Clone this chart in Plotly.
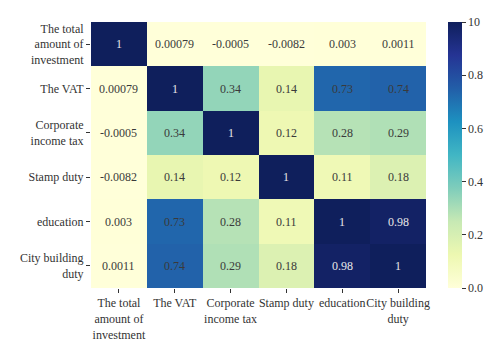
import plotly.graph_objects as go

labels = ["The total<br>amount of<br>investment", "The VAT", "Corporate<br>income tax",
          "Stamp duty", "education", "City building<br>duty"]
keys = ["total", "vat", "cit", "stamp", "edu", "city"]

row_total = [1, 0.00079, -0.0005, -0.0082, 0.003, 0.0011]
row_vat = [0.00079, 1, 0.34, 0.14, 0.73, 0.74]
row_cit = [-0.0005, 0.34, 1, 0.12, 0.28, 0.29]
row_stamp = [-0.0082, 0.14, 0.12, 1, 0.11, 0.18]
row_edu = [0.003, 0.73, 0.28, 0.11, 1, 0.98]
row_city = [0.0011, 0.74, 0.29, 0.18, 0.98, 1]
matrix = [row_total, row_vat, row_cit, row_stamp, row_edu, row_city]

cbar_tickvals = [0.0, 0.2, 0.4, 0.6, 0.8, 1.0]
cbar_ticktext = ["0.0", "0.2", "0.4", "0.6", "0.8", "10"]

ylgnbu = [
    [0.0, "#ffffd9"], [0.125, "#edf8b1"], [0.25, "#c7e9b4"], [0.375, "#7fcdbb"],
    [0.5, "#41b6c4"], [0.625, "#1d91c0"], [0.75, "#225ea8"], [0.875, "#253494"],
    [1.0, "#0f1f5c"],
]

FONT = "'Liberation Serif', 'DejaVu Serif', serif"
FS = 12

fig = go.Figure(go.Heatmap(
    z=matrix, x=keys, y=keys, zmin=0, zmax=1, colorscale=ylgnbu,
    xgap=0, ygap=0, hoverinfo="skip",
    colorbar=dict(
        x=1.066, xanchor="left", xref="paper", thickness=14, len=1.0, lenmode="fraction",
        y=0.5, yanchor="middle", outlinewidth=0, xpad=0, ypad=0,
        tickvals=cbar_tickvals, ticktext=cbar_ticktext,
        ticks="outside", ticklen=4, tickcolor="#333", tickwidth=1,
        tickfont=dict(family=FONT, size=FS, color="#333"),
    ),
))

def fmt(v):
    return "%g" % v

for i, rk in enumerate(keys):
    for j, ck in enumerate(keys):
        v = matrix[i][j]
        color = "#e8e8e8" if v >= 0.85 else "#3a3a3a"
        fig.add_annotation(x=ck, y=rk, xref="x", yref="y", text=fmt(v), showarrow=False,
                           font=dict(family=FONT, size=FS, color=color))

fig.update_xaxes(tickvals=keys, ticktext=labels, ticks="outside", ticklen=4, tickcolor="#333",
                 tickangle=0, automargin=False,
                 tickfont=dict(family=FONT, size=FS, color="#333"), showgrid=False,
                 zeroline=False, showline=False)
fig.update_yaxes(tickvals=keys, ticktext=labels, ticks="outside", ticklen=4, tickcolor="#333",
                 automargin=False,
                 tickfont=dict(family=FONT, size=FS, color="#333"), showgrid=False,
                 zeroline=False, showline=False, autorange="reversed")

fig.update_layout(
    width=500, height=355,
    margin=dict(l=91, r=74, t=22, b=67),
    paper_bgcolor="white", plot_bgcolor="white",
    font=dict(family=FONT, size=FS, color="#333"),
)

fig.write_html("out.html", config={"displayModeBar": False, "staticPlot": True},
               post_script="document.body.style.margin='0';document.body.style.overflow='hidden';")
